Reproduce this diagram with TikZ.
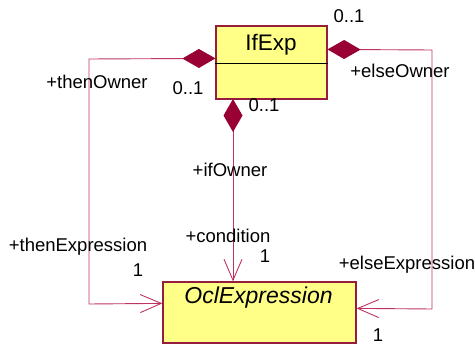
\documentclass[tikz,border=0pt]{standalone}
\usepackage{fontspec}
\setmainfont{Liberation Sans}
\usetikzlibrary{arrows.meta,calc}
\definecolor{lnc}{RGB}{190,50,100}
\definecolor{dia}{RGB}{153,0,51}
\definecolor{brd}{RGB}{150,30,60}
\definecolor{fillc}{RGB}{255,255,136}
\tikzset{
  cls/.style={draw=brd,fill=fillc,line width=1.2pt,inner sep=0pt},
  lbl/.style={font=\fontsize{18.5}{20}\selectfont,inner sep=0pt},
  conn/.style={draw=lnc,line width=0.9pt,
    {Diamond[length=33pt,width=19pt,color=dia,fill=dia]}-{Straight Barb[length=21pt,width=18pt,line width=0.9pt]}}
}
\begin{document}
\begin{tikzpicture}[x=1pt,y=-1pt]
\useasboundingbox (0,0) rectangle (475,344);
% classes
\node[cls,minimum width=111pt,minimum height=73pt] (ifexp) at (271.5,62.5) {};
\draw[black,line width=0.9pt] ([yshift=-38pt]ifexp.north west) -- ([yshift=-38pt]ifexp.north east);
\node[font=\fontsize{22.5}{24}\selectfont,inner sep=0pt] (ifname) at (271,45) {IfExp};
\node[cls,minimum width=193pt,minimum height=61pt] (ocl) at (259.5,312.5) {};
\node[font=\fontsize{23}{24}\selectfont\itshape,inner sep=0pt] (oclname) at (258.5,298) {OclExpression};
% bends
\coordinate (t1) at (89,59);
\coordinate (t2) at (89,304);
\coordinate (e1) at (432,50);
\coordinate (e2) at (432,309);
\coordinate (ifs) at (233,99);
% connectors
\draw[conn] ([yshift=-33pt]ifexp.north west) -- (t1) -- (t2) -- ([yshift=-22pt]ocl.north west);
\draw[conn] (ifs) -- (ifs |- ocl.north);
\draw[conn] ([yshift=-24pt]ifexp.north east) -- (e1) -- (e2) -- ([yshift=-27pt]ocl.north east);
% labels
\node[lbl] (l1) at (97,82) {+thenOwner};
\node[lbl] (l2) at (188,88) {0..1};
\node[lbl] (l3) at (349,16) {0..1};
\node[lbl] (l4) at (400,71) {+elseOwner};
\node[lbl] (l5) at (264,105) {0..1};
\node[lbl] (l6) at (230,170) {+ifOwner};
\node[lbl] (l7) at (228,236) {+condition};
\node[lbl] (l8) at (265,256) {1};
\node[lbl] (l9) at (78,247) {+thenExpression};
\node[lbl] (l10) at (138,270) {1};
\node[lbl] (l11) at (407,265) {+elseExpression};
\node[lbl] (l12) at (378,335) {1};
\end{tikzpicture}
\end{document}
